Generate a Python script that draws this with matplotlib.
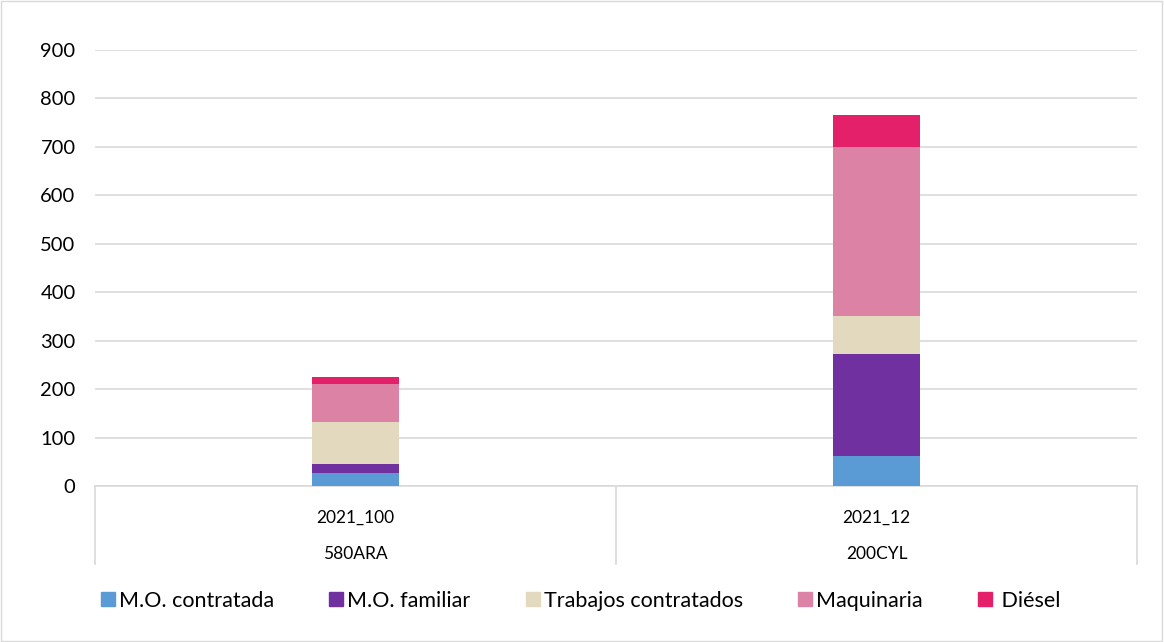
import numpy as np
import matplotlib.pyplot as plt
from matplotlib.lines import Line2D

plt.rcParams['font.family'] = ['Lato', 'DejaVu Sans']

# data
years = ['2021_100', '2021_12']
sites = ['580ARA', '200CYL']
series = ['M.O. contratada', 'M.O. familiar', 'Trabajos contratados', 'Maquinaria', ' Diésel']
mo_contratada = [27, 62]
mo_familiar = [18, 210]
trabajos = [88, 78]
maquinaria = [78, 349]
diesel = [14, 67]
colors = ['#5B9BD5', '#7030A0', '#E2D9BE', '#DB82A5', '#E5206A']

values = [mo_contratada, mo_familiar, trabajos, maquinaria, diesel]

fig = plt.figure(figsize=(11.64, 6.42), dpi=100)
ax = fig.add_axes([95/1164, 156/642, (1137-95)/1164, 436/642])

ind = np.arange(len(years))
width = 0.167
bottom = np.zeros(len(years))
handles = []
for name, vals, c in zip(series, values, colors):
    ax.bar(ind, vals, width, bottom=bottom, color=c, label=name, zorder=3)
    bottom += np.array(vals)
    handles.append(Line2D([], [], marker='s', linestyle='none', markersize=10,
                          markerfacecolor=c, markeredgecolor=c, label=name))

ax.set_xlim(-0.5, len(years) - 0.5)
ax.set_ylim(0, 900)
ax.set_yticks(np.arange(0, 901, 100))
ax.yaxis.grid(True, color='#D9D9D9', linewidth=1.2, zorder=0)
ax.tick_params(axis='y', length=0, labelsize=14.5, pad=14)
ax.set_xticks([])
for s in ['top', 'right', 'left']:
    ax.spines[s].set_visible(False)
ax.spines['bottom'].set_color('#D9D9D9')
ax.spines['bottom'].set_linewidth(1.2)

# two-level category labels
trans = ax.get_xaxis_transform()
for x in np.arange(len(years) + 1) - 0.5:
    ax.plot([x, x], [0, -0.18], transform=trans, color='#D9D9D9', lw=1.2, clip_on=False)
for i in ind:
    ax.text(i, -0.074, years[i], transform=trans, ha='center', va='center', fontsize=12.5)
    ax.text(i, -0.157, sites[i], transform=trans, ha='center', va='center', fontsize=12.5)

fig.legend(handles=handles, loc='center left', bbox_to_anchor=(80/1164, 1 - 601/642),
           ncol=5, frameon=False, fontsize=15.5, handletextpad=0.1, columnspacing=2.5,
           handlelength=0.8)

# chart border
fig.add_artist(plt.Rectangle((0.001, 0.002), 0.997, 0.996, transform=fig.transFigure,
                             fill=False, edgecolor='#D9D9D9', lw=1))

fig.savefig('out.png', dpi=100)
